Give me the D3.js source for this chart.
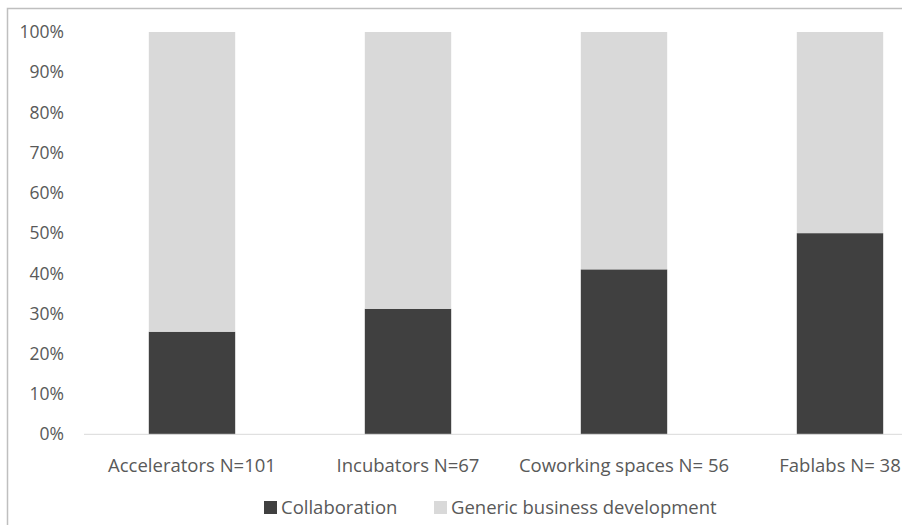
<!DOCTYPE html>
<html>
<head>
<meta charset="utf-8">
<script src="https://cdn.jsdelivr.net/npm/d3@7"></script>
<style>
  body { margin: 0; background: #fff; }
  svg text { font-family: "Open Sans", sans-serif; fill: #595959; }
</style>
</head>
<body>
<div id="chart"></div>
<script>
// chart data
var categories = ['Accelerators N=101', 'Incubators N=67', 'Coworking spaces N= 56', 'Fablabs N= 38'];
var collaboration = [25.5, 31.2, 41, 50];
var generic = [74.5, 68.8, 59, 50];
var seriesNames = ['Collaboration', 'Generic business development'];
var seriesColors = ['#404040', '#d9d9d9'];
var yTicks = [0, 10, 20, 30, 40, 50, 60, 70, 80, 90, 100];

var width = 902, height = 525;
var svg = d3.select('#chart').append('svg').attr('width', width).attr('height', height);

// outer border (cut off at right and bottom like the source)
svg.append('rect')
  .attr('x', 7.5).attr('y', 8.5)
  .attr('width', 1000).attr('height', 1000)
  .attr('fill', 'none').attr('stroke', '#bfbfbf').attr('stroke-width', 1.5);

var x = d3.scaleBand().domain(categories).range([84, 948]).paddingInner(0.6).paddingOuter(0.3);
var y = d3.scaleLinear().domain([0, 100]).range([434.3, 32]);

var rows = categories.map(function(c, i) {
  return { cat: c, Collaboration: collaboration[i], 'Generic business development': generic[i] };
});
var stacked = d3.stack().keys(seriesNames)(rows);

svg.append('g').selectAll('g')
  .data(stacked)
  .enter().append('g')
  .attr('fill', function(d, i) { return seriesColors[i]; })
  .selectAll('rect')
  .data(function(d) { return d; })
  .enter().append('rect')
  .attr('x', function(d) { return x(d.data.cat); })
  .attr('width', x.bandwidth())
  .attr('y', function(d) { return y(d[1]); })
  .attr('height', function(d) { return y(d[0]) - y(d[1]); });

// baseline
svg.append('line')
  .attr('x1', 84).attr('x2', 948)
  .attr('y1', y(0)).attr('y2', y(0))
  .attr('stroke', '#d9d9d9').attr('stroke-width', 1);

// y axis labels
svg.append('g').selectAll('text')
  .data(yTicks)
  .enter().append('text')
  .attr('x', 64)
  .attr('y', function(d) { return y(d); })
  .attr('dy', '0.35em')
  .attr('text-anchor', 'end')
  .attr('font-size', 17.5)
  .text(function(d) { return d + '%'; });

// category labels
svg.append('g').selectAll('text')
  .data(categories)
  .enter().append('text')
  .attr('x', function(d) { return x(d) + x.bandwidth() / 2; })
  .attr('y', 466)
  .attr('dy', '0.35em')
  .attr('text-anchor', 'middle')
  .attr('font-size', 18.5)
  .text(function(d) { return d; });

// legend
var legendX = [264, 434];
var legend = svg.append('g').selectAll('g')
  .data(seriesNames)
  .enter().append('g')
  .attr('transform', function(d, i) { return 'translate(' + legendX[i] + ',508)'; });
legend.append('rect')
  .attr('x', 0).attr('y', -7)
  .attr('width', 13).attr('height', 13)
  .attr('fill', function(d, i) { return seriesColors[i]; });
legend.append('text')
  .attr('x', 17)
  .attr('dy', '0.35em')
  .attr('font-size', 18.5)
  .text(function(d) { return d; });
</script>
</body>
</html>
